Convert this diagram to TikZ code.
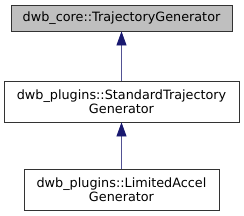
\documentclass[tikz,border=0pt]{standalone}
\usepackage{fontspec}
\setmainfont{DejaVu Sans}
\usetikzlibrary{arrows.meta, positioning}

\begin{document}
\begin{tikzpicture}[
  x=1bp, y=-1bp, line width=0.8bp,
  cls/.style={draw=black!80, fill=white, align=center, inner sep=0pt,
              font=\fontsize{12.8bp}{13.5bp}\selectfont},
  base/.style={cls, fill=black!25},
  inherit/.style={draw=midnightblue!75, -{Triangle[length=14bp, width=10bp, color=midnightblue]}}
]
  \definecolor{midnightblue}{RGB}{25,25,112}
  \useasboundingbox (0,0) rectangle (244,216);
  % Hierarchie de haut en bas.
  \node[base, minimum width=221bp, minimum height=26bp] (core) at (121.5,18) {dwb\_core::TrajectoryGenerator};
  \node[cls, minimum width=235bp, minimum height=41bp] (standard) at (121.5,101.5) {dwb\_plugins::StandardTrajectory\\Generator};
  \node[cls, minimum width=195bp, minimum height=41bp] (limited) at (121.5,189.5) {dwb\_plugins::LimitedAccel\\Generator};

  \draw[inherit] (standard) -- (core);
  \draw[inherit] (limited) -- (standard);
\end{tikzpicture}
\end{document}
